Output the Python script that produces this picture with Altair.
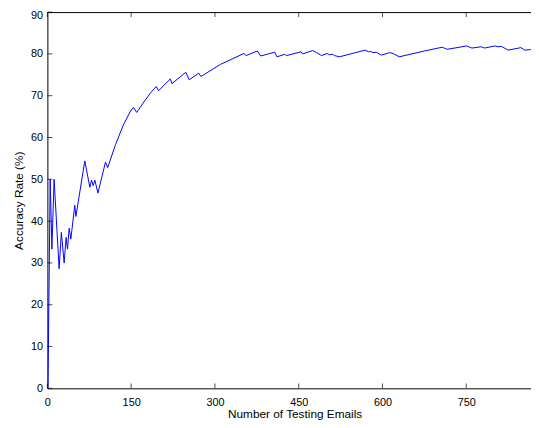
import altair as alt
import pandas as pd

# Curve (number of testing emails, accuracy %)
emails = [1, 5, 8, 12, 21, 25, 30, 33.5, 36, 39, 42, 49, 51, 67, 76, 79, 82, 85, 90.5,
          104, 108, 122, 136, 148, 154, 160, 175, 186, 195, 199, 220, 223, 248, 254,
          271, 275, 310, 352, 356, 376, 382, 407, 411, 425, 428, 454, 457, 475, 482,
          491, 501, 505, 511, 514, 523, 569, 575, 579, 583, 589, 598, 613, 619, 630,
          675, 707, 716, 751, 760, 777, 783, 801, 807, 813, 825, 848, 855, 867]
accuracy = [0, 50, 33.3, 50, 28.6, 37.3, 30, 36.1, 33.3, 38.3, 35.7, 43.8, 41.1, 54.4,
            48.1, 49.8, 48.5, 49.8, 46.7, 54.1, 52.8, 58.3, 63, 66.1, 67.2, 66, 68.9,
            70.9, 72.2, 71.2, 74, 72.9, 75.6, 73.8, 75.4, 74.6, 77.5, 80.1, 79.6, 80.7,
            79.5, 80.4, 79.3, 79.9, 79.6, 80.5, 80, 80.8, 80.3, 79.6, 80.1, 79.8, 79.9,
            79.6, 79.3, 80.9, 80.5, 80.6, 80.3, 80.4, 79.7, 80.3, 80.1, 79.3, 80.7,
            81.6, 81.1, 81.9, 81.4, 81.7, 81.4, 81.9, 81.7, 81.8, 80.9, 81.5, 80.9, 81.05]

x_ticks = [0, 150, 300, 450, 600, 750]
y_ticks = [0, 10, 20, 30, 40, 50, 60, 70, 80, 90]
x_max = 866

df = pd.DataFrame({"emails": emails, "accuracy": accuracy})
xt = pd.DataFrame({"t": x_ticks})
yt = pd.DataFrame({"t": y_ticks})

xscale = alt.Scale(domain=[0, x_max], nice=False, zero=False)
yscale = alt.Scale(domain=[0, 90], nice=False, zero=False)

y_axis = alt.Axis(values=y_ticks, ticks=False, labelPadding=5,
                  title="Accuracy Rate (%)", titlePadding=5,
                  labelOffset={"condition": {"test": "datum.value == 90", "value": 4},
                               "value": 0})

line = alt.Chart(df).mark_line(color="#0000ff", strokeWidth=1, clip=True).encode(
    x=alt.X("emails:Q", scale=xscale,
            axis=alt.Axis(values=x_ticks, ticks=False, labelPadding=8,
                          title="Number of Testing Emails", titlePadding=2,
                          titleX=251, labelFlush=False)),
    y=alt.Y("accuracy:Q", scale=yscale, axis=y_axis, title="Accuracy Rate (%)"),
)

top_axis = alt.Chart(xt).mark_tick(orient="vertical", size=5, thickness=1, color="black",
                                   yOffset=2.5).encode(
    x=alt.X("t:Q", scale=xscale,
            axis=alt.Axis(orient="top", labels=False, ticks=False, title=None, domain=True)),
    y=alt.Y(datum=90, scale=yscale, axis=y_axis, title="Accuracy Rate (%)"),
)

bottom_ticks = alt.Chart(xt).mark_tick(orient="vertical", size=5, thickness=1,
                                       color="black", yOffset=-2.5).encode(
    x=alt.X("t:Q", scale=xscale, axis=None),
    y=alt.Y(datum=0, scale=yscale, axis=y_axis, title="Accuracy Rate (%)"),
)

left_ticks = alt.Chart(yt).mark_tick(orient="horizontal", size=5, thickness=1,
                                     color="black", xOffset=2.5).encode(
    y=alt.Y("t:Q", scale=yscale, axis=y_axis, title="Accuracy Rate (%)"),
    x=alt.X(datum=0, axis=None),
)

chart = alt.layer(line, top_axis, bottom_ticks, left_ticks).resolve_axis(
    x="independent", y="shared"
).properties(
    width=491,
    height=382,
    autosize=alt.AutoSizeParams(type="none"),
    padding={"left": 40, "top": 1, "right": 0, "bottom": 30},
    background="white",
).configure_view(stroke=None).configure_axis(
    grid=False,
    domainColor="black",
    domainWidth=1,
    labelFont="Liberation Sans",
    labelFontSize=11,
    labelColor="black",
    titleFont="Liberation Sans",
    titleFontSize=12,
    titleFontWeight="normal",
    titleColor="black",
)

chart.save("out.html", embed_options={"renderer": "svg", "actions": False})
